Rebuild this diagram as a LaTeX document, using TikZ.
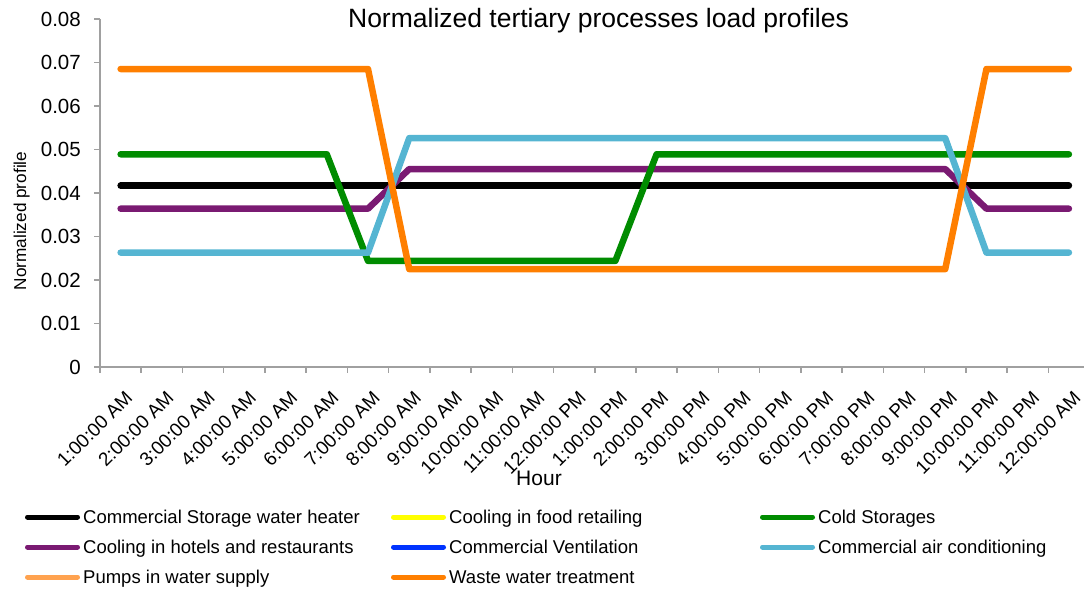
\documentclass[tikz,border=0pt]{standalone}
\usepackage{fontspec}
\setmainfont{Liberation Sans}
\usetikzlibrary{positioning}
\definecolor{axisgray}{HTML}{A0A0A0}
\definecolor{heaterblack}{HTML}{000000}
\definecolor{foodyellow}{HTML}{FFFF00}
\definecolor{coldgreen}{HTML}{008C00}
\definecolor{hotelpurple}{HTML}{7A1A72}
\definecolor{ventblue}{HTML}{0033FF}
\definecolor{aircondblue}{HTML}{55B5D2}
\definecolor{pumporange}{HTML}{FFA24F}
\definecolor{wasteorange}{HTML}{FF7F00}

\begin{document}
\begin{tikzpicture}
[x=1pt,y=1pt,
  axisDecorate/.style={draw=axisgray,line width=1.6pt},
  lineDecorate/.style={line width=6.5pt,line join=round,line cap=round},
  legendDecorate/.style={line width=5pt,line cap=round},
  tickLabel/.style={inner sep=0pt,anchor=east,font=\fontsize{20.5}{22}\selectfont},
  hourLabel/.style={inner sep=0pt,anchor=east,font=\fontsize{19}{21}\selectfont},
  legendLabel/.style={inner sep=0pt,anchor=base west,font=\fontsize{18.5}{20}\selectfont}]
\useasboundingbox (0,0) rectangle (1084,590);
%% titles
\node (title) at (598.5,562) [anchor=base,inner sep=0pt,font=\fontsize{26.5}{28}\selectfont]
  {Normalized tertiary processes load profiles};
\node (ytitle) at (26,369) [rotate=90,anchor=base,inner sep=0pt,font=\fontsize{17.2}{19}\selectfont]
  {Normalized profile};
\node (xtitle) at (539,105) [anchor=base,inner sep=0pt,font=\fontsize{21}{23}\selectfont]
  {Hour};
%% plot area, one unit = one hour across and 0.01 up
\begin{scope}[shift={(100,223)},x=41.23pt,y=43.5pt]
\draw[axisDecorate] (0,8) -- (0,0) -- (23.87,0);
\foreach \v in {0,...,8}
{
  \draw[axisDecorate] (0,\v) -- ++(-6pt,0);
  \node (ytick\v) at (0,\v) [tickLabel,xshift=-19pt] {\ifnum\v=0 0\else 0.0\v\fi};
}
\foreach \h in {0,...,23}
{
  \draw[axisDecorate] (\h,0) -- ++(0,-6pt);
}
\foreach \h/\txt in {
  1/1:00:00 AM, 2/2:00:00 AM, 3/3:00:00 AM, 4/4:00:00 AM, 5/5:00:00 AM,
  6/6:00:00 AM, 7/7:00:00 AM, 8/8:00:00 AM, 9/9:00:00 AM, 10/10:00:00 AM,
  11/11:00:00 AM, 12/12:00:00 PM, 13/1:00:00 PM, 14/2:00:00 PM,
  15/3:00:00 PM, 16/4:00:00 PM, 17/5:00:00 PM, 18/6:00:00 PM,
  19/7:00:00 PM, 20/8:00:00 PM, 21/9:00:00 PM, 22/10:00:00 PM,
  23/11:00:00 PM, 24/12:00:00 AM}
{
  \node (hour\h) at (\h-0.5,0) [xshift=8.5pt,yshift=-27.5pt,rotate=45,hourLabel] {\txt};
}
%% series
\draw[lineDecorate,draw=heaterblack] (0.5,4.17) -- (23.5,4.17);
\draw[lineDecorate,draw=hotelpurple] (0.5,3.64) -- (6.5,3.64) -- (7.5,4.55)
  -- (20.5,4.55) -- (21.5,3.64) -- (23.5,3.64);
\draw[lineDecorate,draw=coldgreen] (0.5,4.89) -- (5.5,4.89) -- (6.5,2.44)
  -- (12.5,2.44) -- (13.5,4.89) -- (23.5,4.89);
\draw[lineDecorate,draw=aircondblue] (0.5,2.63) -- (6.5,2.63) -- (7.5,5.26)
  -- (20.5,5.26) -- (21.5,2.63) -- (23.5,2.63);
\draw[lineDecorate,draw=wasteorange] (0.5,6.85) -- (6.5,6.85) -- (7.5,2.25)
  -- (20.5,2.25) -- (21.5,6.85) -- (23.5,6.85);
\end{scope}
%% legend
\foreach \name/\x/\y/\col/\txt in {
  heater/25/73/heaterblack/Commercial Storage water heater,
  food/391/73/foodyellow/Cooling in food retailing,
  cold/760/73/coldgreen/Cold Storages,
  hotel/25/43/hotelpurple/Cooling in hotels and restaurants,
  vent/391/43/ventblue/Commercial Ventilation,
  aircond/760/43/aircondblue/Commercial air conditioning,
  pump/25/13/pumporange/Pumps in water supply,
  waste/391/13/wasteorange/Waste water treatment}
{
  \coordinate (\name start) at (\x+2.5,\y);
  \coordinate (\name end) at (\x+52.5,\y);
  \node (\name) at (\x+58,\y-6.6) [legendLabel] {\txt};
  \draw[legendDecorate,draw=\col] (\name start) -- (\name end);
}
\end{tikzpicture}
\end{document}
